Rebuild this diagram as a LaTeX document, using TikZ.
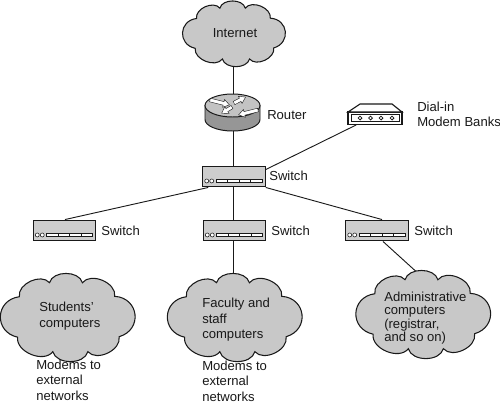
\documentclass[tikz,border=0pt]{standalone}
\usepackage{fontspec}
\setmainfont{Liberation Sans}
\definecolor{netCloud}{RGB}{200,200,200}
\definecolor{netBox}{RGB}{205,205,205}
\definecolor{netTop}{RGB}{195,195,195}
\definecolor{netBody}{RGB}{150,150,150}
\definecolor{netInk}{RGB}{25,25,25}
\usetikzlibrary{
  positioning,
  calc,
}
% ports on the front of a switch
\newcommand{\switchports}[1]{
  \foreach \dx in {4.5,9.5}
    \draw[netInk, line width=0.4pt, fill=white] ($(#1.south west)+(\dx,-6.5)$) circle (2);
  \foreach \dx in {14,25.5,37,48.5}
    \draw[netInk, line width=0.7pt, fill=white] ($(#1.south west)+(\dx,-8)$) rectangle ++(11.5,3);
}
% cloud outline over an empty box node: #1 name, #2 width, #3 height
\newcommand{\cloudshape}[3]{
  \begin{scope}[shift={(#1.north west)}, x=#2*0.025cm, y=#3*-0.025cm]
    \draw[cloudline]
      (.14,.25) to[bend left=75] (.36,.075) to[bend left=75] (.60,.075)
      to[bend left=75] (.836,.245) to[bend left=80, looseness=1.55] (.868,.75)
      to[bend left=75] (.64,.937) to[bend left=75] (.384,.937)
      to[bend left=75] (.127,.756) to[bend left=80, looseness=1.55] cycle;
  \end{scope}
}
\begin{document}
\begin{tikzpicture}[
  x=0.025cm, y=-0.025cm,
  every node/.style={font=\fontsize{9.3}{11}\selectfont, text=netInk},
  link/.style    ={draw=netInk, line width=0.65pt},
  cloudline/.style={draw=netInk, line width=0.75pt, fill=netCloud},
  cloudbox/.style={rectangle, inner sep=0pt, minimum width=3.425cm, minimum height=2cm},
  swbox/.style   ={rectangle, draw=netInk, line width=0.8pt, fill=netBox,
                   minimum width=1.56cm, minimum height=0.52cm, inner sep=0pt},
  rlbl/.style    ={align=left, anchor=west, inner sep=0pt},
  wharrow/.style ={draw=netInk, line width=0.3pt, fill=white},
]
  \useasboundingbox (0,0) rectangle (500,404);
  \fill[white] (0,0) rectangle (500,404);

  \coordinate (trunk) at (233,0);

  % Top of the tree
  \node[cloudbox, minimum width=2.65cm, minimum height=1.475cm] (inet) at (235,33.5) {};
  \node[rectangle, inner sep=0pt, minimum width=1.375cm, minimum height=0.9cm] (rtr) at (232.5,113) {};
  \draw[link] (trunk |- inet.south) -- (trunk |- rtr.north);
  \cloudshape{inet}{106}{59}
  \node (inettxt) at (235,33) {Internet};

  % Router body
  \draw[netInk, line width=0.7pt, fill=netBody] (205,105.5) -- (205,119.5) arc (180:0:27.5 and 11.5) -- (260,105.5) -- cycle;
  \draw[netInk, line width=0.7pt, fill=netTop] (232.5,105.5) ellipse (27.5 and 11.5);
  \foreach \ax/\ay/\rot/\len in {210/100/-14/20, 258/110/194/20, 234/103/27/13, 232/107/211/12}
    \draw[wharrow, shift={(\ax,\ay)}, rotate=\rot]
      (0,-1.8) -- (\len-6,-1.8) -- (\len-6,-4) -- (\len,0) -- (\len-6,4) -- (\len-6,1.8) -- (0,1.8) -- cycle;
  \node[rlbl] (rtrlbl) at (267,115) {Router};

  % Modem bank
  \node[rectangle, draw=netInk, line width=1pt, fill=white, minimum width=1.35cm, minimum height=0.31cm, inner sep=0pt] (modem) at (375,118) {};
  \draw[netInk, line width=0.8pt, fill=white] (348,112) -- (360,104) -- (392,104) -- (402,112) -- cycle;
  \draw[netInk, line width=0.4pt] (351,114.5) rectangle (399,121.5);
  \foreach \mx in {360,370.5,381,392}
    \draw[netInk, line width=0.6pt] (\mx,118) circle (1.9);
  \node[rlbl] (modemlbl) at (417,114.5) {Dial-in\\Modem Banks};

  % Switches
  \node[swbox] (core)  at (234,176.5) {};
  \node[swbox] (swstu) at (64.5,230.5) {};
  \node[swbox] (swfac) at (234.5,230.5) {};
  \node[swbox] (swadm) at (377,230.5) {};

  \draw[link] (trunk |- rtr.south) -- (trunk |- core.north);
  \draw[link] ($(core.south west)+(6,0)$) -- ($(swstu.north)+(0.5,0)$);
  \draw[link] (trunk |- core.south) -- (trunk |- swfac.north);
  \draw[link] (core.south east) -- ($(swadm.north)+(5,0)$);
  \draw[link] ($(core.north east)+(0,4)$) -- ($(modem.south west)+(9,0)$);

  \foreach \sw in {core,swstu,swfac,swadm}
    \switchports{\sw};

  \node[rlbl] (corelbl) at (269,176) {Switch};
  \node[rlbl] (stulbl) at (101,231) {Switch};
  \node[rlbl] (faclbl) at (271,231) {Switch};
  \node[rlbl] (admlbl) at (414,231) {Switch};

  % Clouds
  \node[cloudbox] (stu) at (69,317) {};
  \node[cloudbox] (fac) at (236,317) {};
  \node[cloudbox] (adm) at (424.5,314) {};

  \draw[link] ($(swstu.south)+(1.5,0)$) -- ($(swstu.south)+(1.5,0)$ |- stu.north);
  \draw[link] (trunk |- swfac.south) -- (trunk |- fac.north);
  \draw[link] ($(swadm.south)+(6,0)$) -- ($(adm.north)+(-6,0)$);

  \cloudshape{stu}{137}{80}
  \cloudshape{fac}{137}{80}
  \cloudshape{adm}{137}{80}

  \node[rlbl] (stutxt) at (39,316) {Students'\\computers};
  \node[rlbl] (factxt) at (202,320) {Faculty and\\staff\\computers};
  \node[rlbl, font=\fontsize{9.3}{9.5}\selectfont] (admtxt) at (384,318) {Administrative\\computers\\(registrar,\\and so on)};

  \node[rlbl] (stumod) at (36,380) {Modems to\\external\\networks};
  \node[rlbl] (facmod) at (202,381) {Modems to\\external\\networks};
\end{tikzpicture}
\end{document}
